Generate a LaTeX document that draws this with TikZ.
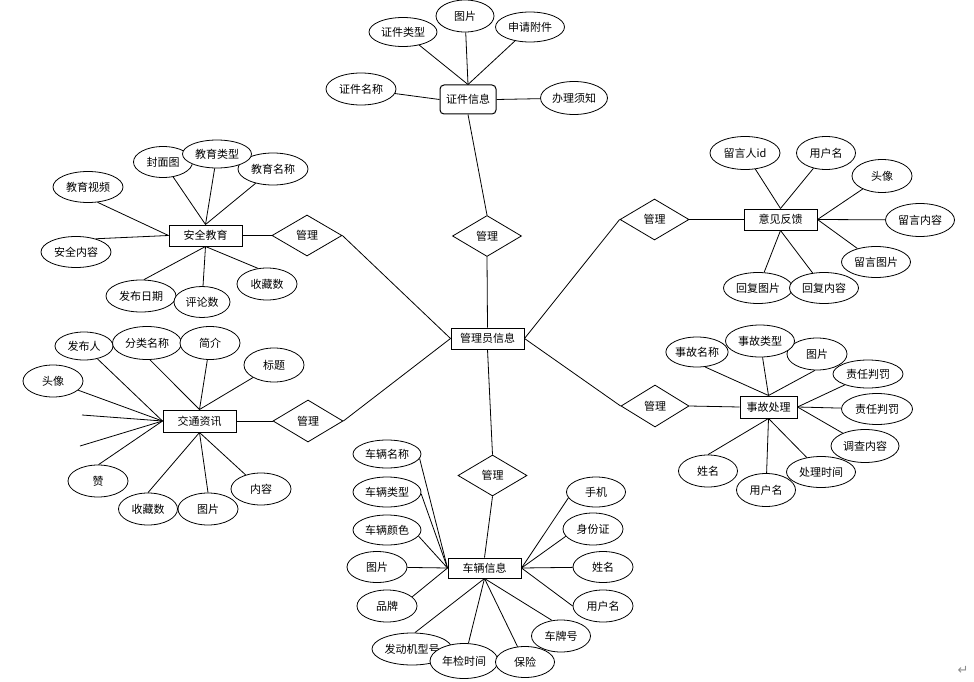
\documentclass[tikz,border=0pt]{standalone}
\usepackage{fontspec}
\setmainfont{Noto Sans CJK SC}
\newfontfamily\symfont{DejaVu Sans}
\usetikzlibrary{shapes.geometric}
\pgfdeclarelayer{background}
\pgfsetlayers{background,main}
\begin{document}
\begin{tikzpicture}[x=1pt,y=-1pt,
  every node/.style={font=\fontsize{11}{13}\selectfont, inner sep=0pt},
  attr/.style 2 args={ellipse, draw, fill=white, line width=0.8pt, minimum width=#1pt, minimum height=#2pt},
  ent/.style 2 args={rectangle, draw, fill=white, line width=1pt, minimum width=#1pt, minimum height=#2pt},
  relship/.style={diamond, draw, fill=white, line width=0.8pt, minimum width=69pt, minimum height=41pt},
  conn/.style={line width=0.8pt}]
\useasboundingbox (0,0) rectangle (974,682);

% ---------- top: certificate ----------
\node[ent={56}{29}, rounded corners=4pt] (z0) at (468,99.5) {证件信息};
\node[attr={68}{29}] (z1) at (403,32) {证件类型};
\node[attr={58}{32}] (z2) at (465,16) {图片};
\node[attr={69}{30}] (z3) at (530,27) {申请附件};
\node[attr={70}{32}] (z4) at (361,89) {证件名称};
\node[attr={67}{33}] (z5) at (574,98) {办理须知};
\node[relship] (m0) at (487,236) {管理};
\node[ent={73}{21}] (admin) at (487.5,338.5) {管理员信息};

% ---------- left: education ----------
\node[ent={73}{21}] (e0) at (205.5,235.5) {安全教育};
\node[relship, minimum width=70pt] (me) at (307,235.5) {管理};
\node[attr={59}{31}] (e1) at (163,162) {封面图};
\node[attr={70}{32}] (e3) at (273,169) {教育名称};
\node[attr={69}{28}] (e2) at (217,154) {教育类型};
\node[attr={70}{31}] (e4) at (88,187) {教育视频};
\node[attr={70}{31}] (e5) at (76,252) {安全内容};
\node[attr={70}{32}] (e6) at (141,296) {发布日期};
\node[attr={56}{31}] (e7) at (202,302) {评论数};
\node[attr={60}{32}] (e8) at (267,284) {收藏数};

% ---------- left: traffic news ----------
\node[ent={73}{22}] (t0) at (199.5,421) {交通资讯};
\node[relship, minimum width=70pt, minimum height=42pt] (mt) at (308,421) {管理};
\node[attr={58}{28}] (t1) at (84,346) {发布人};
\node[attr={69}{33}] (t2) at (147,343) {分类名称};
\node[attr={60}{33}] (t3) at (210,343) {简介};
\node[attr={60}{34}] (t4) at (274,365) {标题};
\node[attr={60}{32}] (t5) at (53,381) {头像};
\node[attr={60}{32}] (t6) at (98,481) {赞};
\node[attr={59}{32}] (t7) at (148,509) {收藏数};
\node[attr={60}{32}] (t8) at (208,509) {图片};
\node[attr={60}{32}] (t9) at (261,489) {内容};
\coordinate (c1) at (82,415);
\coordinate (c2) at (80,446);

% ---------- right: feedback ----------
\node[ent={73}{21}] (f0) at (780.5,219.5) {意见反馈};
\node[relship] (mf) at (654.5,219.5) {管理};
\node[attr={70}{33}] (f1) at (745,153) {留言人id};
\node[attr={59}{33}] (f2) at (826,153) {用户名};
\node[attr={60}{33}] (f3) at (882,176) {头像};
\node[attr={69}{33}] (f4) at (920,220) {留言内容};
\node[attr={69}{31}] (f5) at (876,262) {留言图片};
\node[attr={69}{31}] (f6) at (758,288) {回复图片};
\node[attr={69}{31}] (f7) at (824,288) {回复内容};

% ---------- right: accident ----------
\node[ent={57}{22}] (a0) at (768.5,407) {事故处理};
\node[relship, minimum width=68pt, minimum height=42pt] (ma) at (655,406) {管理};
\node[attr={57}{30}] (a1) at (697,352) {事故名称};
\node[attr={60}{32}] (a3) at (817,354) {图片};
\node[attr={69}{32}] (a2) at (760,341) {事故类型};
\node[attr={70}{28}] (a4) at (868,374) {责任判罚};
\node[attr={71}{31}] (a5) at (877,409) {责任判罚};
\node[attr={68}{33}] (a6) at (865,446) {调查内容};
\node[attr={69}{31}] (a7) at (821,472) {处理时间};
\node[attr={59}{33}] (a8) at (766,490) {用户名};
\node[attr={59}{32}] (a9) at (708,471) {姓名};

% ---------- bottom: vehicle ----------
\node[relship] (mv) at (492.5,475.5) {管理};
\node[ent={73}{20}] (v0) at (484.5,568) {车辆信息};
\node[attr={68}{28}] (v1) at (387,454) {车辆名称};
\node[attr={68}{30}] (v2) at (387,492) {车辆类型};
\node[attr={68}{30}] (v3) at (387,530) {车辆颜色};
\node[attr={60}{31}] (v4) at (377,567) {图片};
\node[attr={60}{32}] (v5) at (387,606) {品牌};
\node[attr={80}{32}] (v6) at (412,649) {发动机型号};
\node[attr={68}{35}] (v7) at (464,661) {年检时间};
\node[attr={59}{31}] (v8) at (525,662) {保险};
\node[attr={59}{32}] (v9) at (561,636) {车牌号};
\node[attr={60}{32}] (v10) at (603,606) {用户名};
\node[attr={60}{31}] (v11) at (603,567) {姓名};
\node[attr={60}{32}] (v12) at (593,529) {身份证};
\node[attr={59}{30}] (v13) at (596,492) {手机};

\node[text=black!45, font=\symfont\fontsize{13}{13}\selectfont] (ret) at (963,670) {↵};

\begin{pgfonlayer}{background}
% top
\draw[conn] (z1) -- (z0.north);
\draw[conn] (z2) -- (z0.north);
\draw[conn] (z3) -- (z0.north);
\draw[conn] (z4) -- (z0.west);
\draw[conn] (z5) -- (z0.east);
\draw[conn] (z0.south) -- (m0.north);
\draw[conn] (m0.south) -- (admin.north);
% education
\draw[conn] (e1) -- (e0.north);
\draw[conn] (e2) -- (e0.north);
\draw[conn] (e3) -- (e0.north);
\draw[conn] (e4.-58) -- (e0.west);
\draw[conn] (e5.34) -- (e0.west);
\draw[conn] (e6.80) -- (e0.south);
\draw[conn] (e7) -- (e0.south);
\draw[conn] (e8.120) -- (e0.south);
\draw[conn] (e0.east) -- (me.west);
\draw[conn] (me.east) -- (admin.west);
% traffic
\draw[conn] (t1) -- (t0.west);
\draw[conn] (t5) -- (t0.west);
\draw[conn] (c1) -- (t0.west);
\draw[conn] (c2) -- (t0.west);
\draw[conn] (t6.88) -- (t0.west);
\draw[conn] (t2.-80) -- (t0.north);
\draw[conn] (t3) -- (t0.north);
\draw[conn] (t4) -- (t0.north);
\draw[conn] (t7.90) -- (t0.south);
\draw[conn] (t8.90) -- (t0.south);
\draw[conn] (t9) -- (t0.south);
\draw[conn] (t0.east) -- (mt.west);
\draw[conn] (mt.east) -- (admin.west);
% feedback
\draw[conn] (f1) -- (f0.north);
\draw[conn] (f2) -- (f0.north);
\draw[conn] (f3) -- (f0.east);
\draw[conn] (f4) -- (f0.east);
\draw[conn] (f5) -- (f0.east);
\draw[conn] (f6) -- (f0.south);
\draw[conn] (f7) -- (f0.south);
\draw[conn] (mf.east) -- (f0.west);
\draw[conn] (admin.east) -- (mf.west);
% accident
\draw[conn] (a1.-62) -- (a0.north);
\draw[conn] (a2) -- (a0.north);
\draw[conn] (a3.-97) -- (a0.north);
\draw[conn] (a4) -- (a0.east);
\draw[conn] (a5) -- (a0.east);
\draw[conn] (a6) -- (a0.east);
\draw[conn] (a7) -- (a0.south);
\draw[conn] (a8) -- (a0.south);
\draw[conn] (a9.90) -- (a0.south);
\draw[conn] (ma.east) -- (a0.west);
\draw[conn] (admin.east) -- (ma.west);
% vehicle
\draw[conn] (admin.south) -- (mv.north);
\draw[conn] (mv.south) -- (v0.north);
\draw[conn] (v1.-8) -- (v0.west);
\draw[conn] (v2.-3) -- (v0.west);
\draw[conn] (v3.-11) -- (v0.west);
\draw[conn] (v4) -- (v0.west);
\draw[conn] (v5.20) -- (v0.west);
\draw[conn] (v6.80) -- (v0.south);
\draw[conn] (v7) -- (v0.south);
\draw[conn] (v8) -- (v0.south);
\draw[conn] (v9.120) -- (v0.south);
\draw[conn] (v10.west) -- (v0.east);
\draw[conn] (v11) -- (v0.east);
\draw[conn] (v12.195) -- (v0.east);
\draw[conn] (v13.192) -- (v0.east);
\end{pgfonlayer}
\end{tikzpicture}
\end{document}
